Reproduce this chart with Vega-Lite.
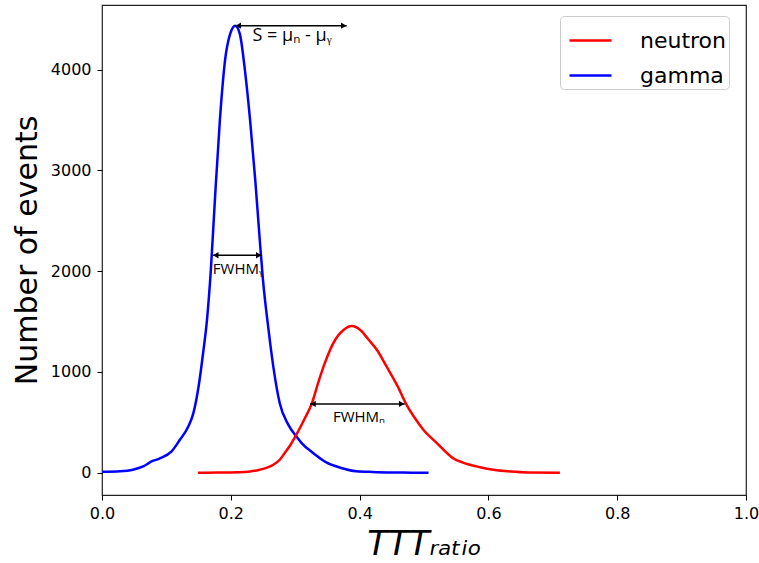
{
  "$schema": "https://vega.github.io/schema/vega-lite/v6.json",
  "width": 644,
  "height": 490,
  "autosize": {"type": "none"},
  "padding": {"left": 102, "top": 5, "right": 13, "bottom": 68},
  "background": "white",
  "config": {
    "view": {"stroke": "#222222", "strokeWidth": 1.2},
    "axis": {"domain": false, "grid": false, "tickColor": "#000000", "tickSize": 5, "tickWidth": 1, "labelFont": "DejaVu Sans", "labelFontSize": 16, "labelColor": "#000000", "titleFont": "DejaVu Sans", "titleFontWeight": "normal", "titleColor": "#000000", "labelFlush": false, "labelBound": false}
  },
  "datasets": {
    "curves": [
      {"x": 0.000, "y": 10, "series": "gamma"},
      {"x": 0.028, "y": 15, "series": "gamma"},
      {"x": 0.048, "y": 30, "series": "gamma"},
      {"x": 0.064, "y": 62, "series": "gamma"},
      {"x": 0.077, "y": 112, "series": "gamma"},
      {"x": 0.090, "y": 142, "series": "gamma"},
      {"x": 0.108, "y": 211, "series": "gamma"},
      {"x": 0.121, "y": 327, "series": "gamma"},
      {"x": 0.134, "y": 458, "series": "gamma"},
      {"x": 0.142, "y": 594, "series": "gamma"},
      {"x": 0.150, "y": 855, "series": "gamma"},
      {"x": 0.157, "y": 1188, "series": "gamma"},
      {"x": 0.163, "y": 1515, "series": "gamma"},
      {"x": 0.169, "y": 2010, "series": "gamma"},
      {"x": 0.175, "y": 2673, "series": "gamma"},
      {"x": 0.183, "y": 3495, "series": "gamma"},
      {"x": 0.191, "y": 4089, "series": "gamma"},
      {"x": 0.199, "y": 4354, "series": "gamma"},
      {"x": 0.207, "y": 4436, "series": "gamma"},
      {"x": 0.214, "y": 4354, "series": "gamma"},
      {"x": 0.222, "y": 3990, "series": "gamma"},
      {"x": 0.230, "y": 3495, "series": "gamma"},
      {"x": 0.238, "y": 2901, "series": "gamma"},
      {"x": 0.245, "y": 2307, "series": "gamma"},
      {"x": 0.250, "y": 1911, "series": "gamma"},
      {"x": 0.258, "y": 1449, "series": "gamma"},
      {"x": 0.266, "y": 1053, "series": "gamma"},
      {"x": 0.276, "y": 690, "series": "gamma"},
      {"x": 0.289, "y": 480, "series": "gamma"},
      {"x": 0.302, "y": 359, "series": "gamma"},
      {"x": 0.310, "y": 294, "series": "gamma"},
      {"x": 0.328, "y": 195, "series": "gamma"},
      {"x": 0.349, "y": 100, "series": "gamma"},
      {"x": 0.370, "y": 50, "series": "gamma"},
      {"x": 0.395, "y": 15, "series": "gamma"},
      {"x": 0.420, "y": 8, "series": "gamma"},
      {"x": 0.452, "y": 3, "series": "gamma"},
      {"x": 0.480, "y": 1, "series": "gamma"},
      {"x": 0.507, "y": 0, "series": "gamma"},
      {"x": 0.149, "y": 0, "series": "neutron"},
      {"x": 0.180, "y": 2, "series": "neutron"},
      {"x": 0.210, "y": 5, "series": "neutron"},
      {"x": 0.230, "y": 12, "series": "neutron"},
      {"x": 0.245, "y": 30, "series": "neutron"},
      {"x": 0.256, "y": 50, "series": "neutron"},
      {"x": 0.266, "y": 79, "series": "neutron"},
      {"x": 0.276, "y": 129, "series": "neutron"},
      {"x": 0.284, "y": 198, "series": "neutron"},
      {"x": 0.292, "y": 270, "series": "neutron"},
      {"x": 0.302, "y": 380, "series": "neutron"},
      {"x": 0.315, "y": 541, "series": "neutron"},
      {"x": 0.326, "y": 690, "series": "neutron"},
      {"x": 0.336, "y": 900, "series": "neutron"},
      {"x": 0.344, "y": 1053, "series": "neutron"},
      {"x": 0.359, "y": 1284, "series": "neutron"},
      {"x": 0.375, "y": 1416, "series": "neutron"},
      {"x": 0.388, "y": 1455, "series": "neutron"},
      {"x": 0.401, "y": 1416, "series": "neutron"},
      {"x": 0.414, "y": 1320, "series": "neutron"},
      {"x": 0.427, "y": 1218, "series": "neutron"},
      {"x": 0.442, "y": 1053, "series": "neutron"},
      {"x": 0.458, "y": 871, "series": "neutron"},
      {"x": 0.473, "y": 673, "series": "neutron"},
      {"x": 0.486, "y": 540, "series": "neutron"},
      {"x": 0.499, "y": 426, "series": "neutron"},
      {"x": 0.520, "y": 294, "series": "neutron"},
      {"x": 0.545, "y": 145, "series": "neutron"},
      {"x": 0.566, "y": 89, "series": "neutron"},
      {"x": 0.587, "y": 55, "series": "neutron"},
      {"x": 0.608, "y": 30, "series": "neutron"},
      {"x": 0.635, "y": 12, "series": "neutron"},
      {"x": 0.660, "y": 3, "series": "neutron"},
      {"x": 0.711, "y": 0, "series": "neutron"}
    ],
    "arrows": [
      {"x1": 0.207, "x2": 0.380, "y": 4436},
      {"x1": 0.172, "x2": 0.248, "y": 2158},
      {"x1": 0.323, "x2": 0.470, "y": 683}
    ],
    "labels": [
      {"x": 0.295, "y": 4280, "text": "S = μₙ - μᵧ", "size": 18},
      {"x": 0.211, "y": 1967, "text": "FWHMᵧ", "size": 15},
      {"x": 0.399, "y": 508, "text": "FWHMₙ", "size": 15}
    ]
  },
  "layer": [
    {
      "data": {"name": "curves"},
      "mark": {"type": "line", "strokeWidth": 2.5, "interpolate": "monotone"},
      "encoding": {
        "x": {"field": "x", "type": "quantitative",
          "scale": {"domain": [0, 1], "nice": false, "zero": false},
          "axis": {"values": [0, 0.2, 0.4, 0.6, 0.8, 1.0], "format": ".1f", "labelPadding": 5, "title": "TTTᵣₐₜᵢₒ", "titleFontSize": 34, "titleFontStyle": "italic", "titlePadding": 6}},
        "y": {"field": "y", "type": "quantitative",
          "scale": {"domain": [-221, 4641], "nice": false, "zero": false},
          "axis": {"values": [0, 1000, 2000, 3000, 4000], "format": "d", "labelPadding": 6, "title": "Number of events", "titleFontSize": 30, "titlePadding": 8}},
        "color": {"field": "series", "type": "nominal",
          "scale": {"domain": ["neutron", "gamma"], "range": ["#ff0000", "#0000ff"]},
          "legend": {"title": null, "orient": "none", "legendX": 458, "legendY": 11, "symbolType": "stroke", "symbolSize": 1764, "symbolOffset": 6, "symbolStrokeWidth": 2.5, "labelFontSize": 22, "labelFont": "DejaVu Sans", "labelColor": "#000000", "labelOffset": 27, "labelLimit": 300, "strokeColor": "#cccccc", "fillColor": "white", "cornerRadius": 4, "padding": 2, "rowPadding": 1, "offset": 0}},
        "detail": {"field": "series"}
      }
    },
    {
      "data": {"name": "arrows"},
      "mark": {"type": "rule", "color": "#000000", "strokeWidth": 1.5},
      "encoding": {
        "x": {"field": "x1", "type": "quantitative"},
        "x2": {"field": "x2"},
        "y": {"field": "y", "type": "quantitative"}
      }
    },
    {
      "data": {"name": "arrows"},
      "mark": {"type": "point", "shape": "triangle-left", "filled": true, "color": "#000000", "size": 40, "opacity": 1, "xOffset": 3},
      "encoding": {
        "x": {"field": "x1", "type": "quantitative"},
        "y": {"field": "y", "type": "quantitative"}
      }
    },
    {
      "data": {"name": "arrows"},
      "mark": {"type": "point", "shape": "triangle-right", "filled": true, "color": "#000000", "size": 40, "opacity": 1, "xOffset": -3},
      "encoding": {
        "x": {"field": "x2", "type": "quantitative"},
        "y": {"field": "y", "type": "quantitative"}
      }
    },
    {
      "data": {"name": "labels"},
      "mark": {"type": "text", "font": "Open Sans", "color": "#000000", "align": "center", "baseline": "alphabetic"},
      "encoding": {
        "x": {"field": "x", "type": "quantitative"},
        "y": {"field": "y", "type": "quantitative"},
        "text": {"field": "text"},
        "size": {"field": "size", "type": "quantitative", "scale": null}
      }
    }
  ]
}
